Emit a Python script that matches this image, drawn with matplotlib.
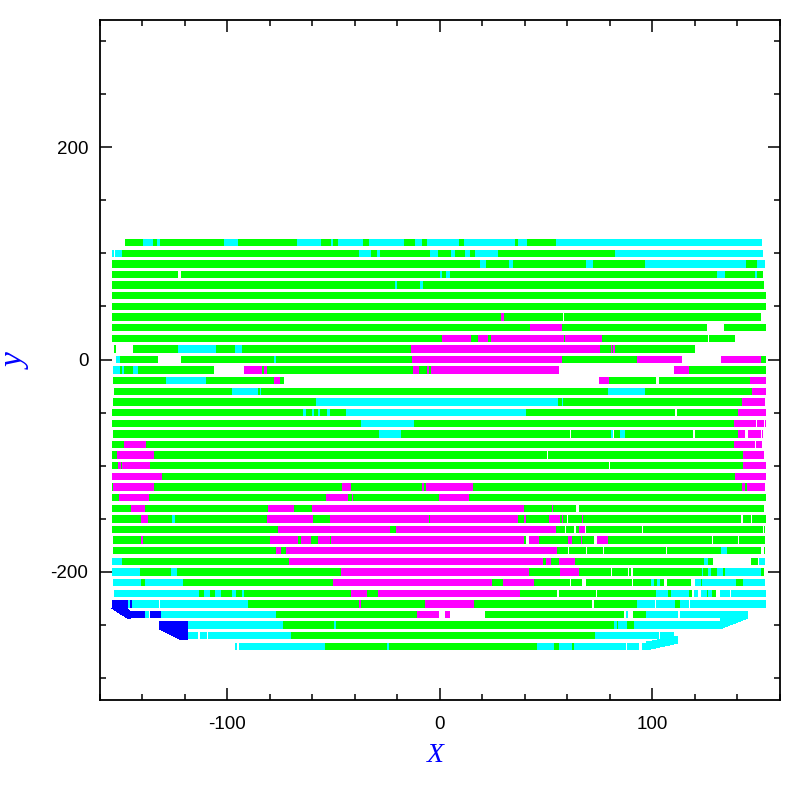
import matplotlib
matplotlib.use("Agg")
import matplotlib.pyplot as plt
from matplotlib.ticker import MultipleLocator

plt.rcParams['font.family'] = ['Liberation Sans', 'DejaVu Sans']
plt.rcParams['axes.unicode_minus'] = False

# --- data: for each strip, the x limits of its pieces and one colour letter per piece
# g green, c cyan, m magenta, b blue, - nothing
x_110 = [-148, -139.4, -134.7, -132.8, -131.6, -101.4, -94.8, -66.9, -55.8, -51.1, -50, -47.8, -35.8, -33, -16.7, -11.5, -8.2, -5.7, 9.1, 11.5, 35.5, 36.9, 41.2, 54.8, 151.8]
c_110 = "gcgcgcgcgcgcgcgcgcgcgcgc"
x_100 = [-154.2, -153.3, -152.8, -149.4, -37.7, -32.1, -29.3, -28, -4.5, -0.7, 5.4, 7.3, 12, 14.3, 16.7, 27.5, 82.6, 152.2]
c_100 = "c-cgcgcgcgcgcgcgc"
x_90 = [-154.2, 19, 21.9, 32.7, 34.6, 68.9, 72.2, 96.7, 144.2, 149.4, 153.2]
c_90 = "gcgcgcgcgc"
x_80 = [-154.2, -123.1, -121.7, 0.2, 1, 3, 4.9, 130.7, 134.3, 148.5, 149.4, 152.2]
c_80 = "g-gcgcgcgcg"
x_70 = [-154.2, -20.9, -20, -9.2, -7.8, 152.7]
c_70 = "gcgcg"
x_60 = [-154.2, 153.6]
c_60 = "g"
x_50 = [-154.2, 153.6]
c_50 = "g"
x_40 = [-154.2, 28.9, 30.3, 58.1, 58.6, 151.3]
c_40 = "gmg-g"
x_30 = [-154.2, 42.6, 57.6, 125.9, 133.9, 153.6]
c_30 = "gmg-g"
x_20 = [-154.2, 1.1, 14.8, 18.1, 22.8, 24.2, 58.6, 59, 76.5, 126.4, 126.8, 139.1]
c_20 = "gmgmgmgmg-g"
x_10 = [-153.2, -152.3, -144.3, -123.1, -105.2, -96.3, -93, -13.4, 75.5, 80.7, 81.2, 81.6, 82.6, 120.2]
c_10 = "g-gcgcgmgmgmg"
x_0 = [-152.3, -150.4, -132.5, -121.7, -77.9, -77, -12.9, 57.6, 92.9, 114.1, 132.5, 151.3, 153.6]
c_0 = "cg-gcgmgm-mg"
x_m10 = [-153.7, -150.4, -149.4, -148.5, -144.3, -141.9, -106.1, -92, -83.5, -82.6, -81.2, -12.3, -9.6, -5.9, -4.9, -4, 56.2, 110.3, 117.4, 153.6]
c_m10 = "cgcgcg-mgmgmgmgm-mg"
x_m20 = [-153.7, -128.7, -109.9, -77.9, -75.1, -73.2, 75, 79.7, 101.9, 103.3, 146.1, 153.6]
c_m20 = "gcgmg-mg-gm"
x_m30 = [-153.2, -97.7, -85.4, -84.5, -83.9, 79.3, 96.7, 147, 153.6]
c_m30 = "gcgcgcgm"
x_m40 = [-153.7, -58.1, 55.7, 57.6, 58.1, 142.4, 153.2]
c_m40 = "gcgcgm"
x_m50 = [-154.2, -64.2, -62.8, -60, -59, -57.2, -56.2, -52.8, -51.5, -44, 40.7, 110.8, 111.8, 140.5, 153.6]
c_m50 = "gcgcgcgcgcg-gm"
x_m60 = [-154.2, -36.8, -12, 138.6, 148.9, 149.4, 152.7, 153.2, 153.6]
c_m60 = "gcgm-m-m"
x_m70 = [-153.7, -28.5, -18.1, 61.4, 61.9, 80.7, 81.6, 82.1, 84.9, 87.3, 119.3, 120.2, 140.5, 143.8, 145.2, 151.3, 151.8, 152.2]
c_m70 = "gcg-gc-gcg-gm-m-m"
x_m80 = [-154.2, -148.5, -138.1, 138.6, 148.5, 148.9, 151.8]
c_m80 = "gmgm-m"
x_m90 = [-154.2, -151.8, -134.4, 50.6, 51, 142.8, 152.7]
c_m90 = "gmg-gm"
x_m100 = [-154.2, -151.3, -149.9, -149.4, -136.3, 79.7, 80.2, 142.8, 153.6]
c_m100 = "gmgmg-gm"
x_m110 = [-154.2, -130.6, 139.1, 153.6]
c_m110 = "mgm"
x_m120 = [-154.2, -153.7, -134.4, -45.9, -41.7, -8.2, -7.3, -6.3, 15.7, 142.4, 143.8, 144.7, 153.2]
c_m120 = "gmgmgmgmgmgm"
x_m130 = [-154.2, -150.9, -136.7, -53.4, -43.1, -41.2, -40.6, -0.2, 13.9, 153.6]
c_m130 = "gmgmgmgmg"
x_m140 = [-154.2, -145.2, -138.6, -80.7, -68.5, -60, 39.7, 52.9, 53.4, 64.2, 65.6, 152.7]
c_m140 = "gmgmgmgmg-g"
x_m150 = [-154.2, -140.5, -137.2, -125.9, -124.5, -81.2, -59.5, -51.5, -4.9, -4.5, 36.9, 39.7, 40.7, 51.5, 56.7, 57.6, 58.3, 60, 60.5, 67, 67.7, 141.9, 142.8, 146.6, 147, 153.6]
c_m150 = "gmgcgmgmgmgmgmgmg-gmg-g-g"
x_m160 = [-154.2, -76, -23.3, -20.5, 54.8, 59, 59.5, 63.3, 64.2, 65.6, 68.5, 68.9, 95.3, 95.8, 152.2, 152.7, 153.2]
c_m160 = "gmgmg-g-gm-g-g-g"
x_m170 = [-153.7, -140.5, -139.6, -79.8, -66.6, -65.2, -60.5, -57.2, -51.5, -50.9, 39.7, 40.7, 42.1, 46.8, 60.5, 62.3, 66.6, 67, 72.7, 74.1, 79.3, 128.2, 128.7, 140.5, 140.9, 153.2]
c_m170 = "gmgmgmgmgmg-mgmgmg-mg-g-g"
x_m180 = [-153.7, -77, -74.6, -72.2, 55.3, 60.5, 60.9, 68.9, 69.4, 76.9, 77.4, 106.6, 107, 132.5, 135.3, 151.3, 152.7, 153.2]
c_m180 = "gmgmg-g-g-g-gcg-g"
x_m190 = [-154.2, -149.4, -70.8, 48.7, 50.1, 52.4, 56.2, 63.7, 124.5, 126.3, 128.7, 146.6, 149.9, 150.4, 153.2]
c_m190 = "cgmgmgmgcg-g-c"
x_m200 = [-154.2, -141, -126.4, -123.6, -46.4, 42.1, 56.7, 65.6, 80.7, 81.2, 88.7, 89.2, 90.1, 91, 123.5, 124, 126.3, 127.8, 130.6, 133.4, 134.3, 151.3, 152.7]
c_m200 = "cgcgmgmg-g-g-gcgcgcgcg"
x_m210 = [-153.7, -140.5, -138.6, -120.7, -50.1, 24.7, 29.9, 44.4, 61.4, 61.9, 67, 68.9, 90.6, 91, 99.5, 100.9, 102.3, 103.8, 105.6, 107, 118.3, 120.2, 123, 123.5, 139.5, 142.8, 153.2]
c_m210 = "cgcgmgmg-g-g-gcgcg-g-cgcgc"
x_m220 = [-153.2, -113.2, -110.8, -108, -105.7, -102.8, -97.7, -95.8, -93, -92, -41.7, -34, -29, 37.9, 55.3, 56.2, 73.6, 74.1, 101.9, 107.5, 108.9, 117.4, 118.8, 119.8, 121.6, 123, 125.9, 126.3, 128.2, 130.1, 132, 136.7, 137.2, 153.6]
c_m220 = "cgcgcgcgcgmgmg-g-gcgcg-c-cgcg-c-c"
x_m230 = [-154.2, -146.6, -145.7, -144.7, -132, -131.6, -90.1, -37.9, -37, -6.8, 16.2, 71.7, 72.7, 92.9, 101.4, 101.9, 110.8, 113.2, 117.4, 117.9, 153.6]
c_m230 = "bcbc-cgmgmg-gc-cgc-c"
x_m240 = [-146.1, -138.6, -136.9, -136.3, -131.1, -76.9, -10.6, -0.1, 2.6, 4.9, 21.4, 86.8, 87.8, 88.7, 91, 97.2, 112.2, 113.2, 145.2]
c_m240 = "bc-bcgm-m-g-c-gc-c"
x_m250 = [-132, -118.4, -73.7, -49.7, -48.7, 82.1, 83.5, 84, 88.2, 91.5, 132]
c_m250 = "bcgcgcgcgc"
x_m260 = [-118.4, -113.7, -112.7, -109.4, -109, -69.9, 73.2, 103.3, 103.8, 110.3]
c_m260 = "c-c-cgc-c"
x_m270 = [-96.3, -95.3, -94.4, -53.9, -24.7, -23.8, 45.9, 53.9, 56.2, 62.3, 63.3, 87.8, 88.2, 93.9, 95.3, 97.2]
c_m270 = "c-cgcgcgcgc-c-c"

strip_y = [110, 100, 90, 80, 70, 60, 50, 40, 30, 20, 10, 0, -10, -20, -30, -40, -50, -60, -70, -80, -90,
           -100, -110, -120, -130, -140, -150, -160, -170, -180, -190, -200, -210, -220, -230, -240, -250, -260, -270]
strip_x = [x_110, x_100, x_90, x_80, x_70, x_60, x_50, x_40, x_30, x_20, x_10, x_0, x_m10, x_m20, x_m30, x_m40, x_m50,
           x_m60, x_m70, x_m80, x_m90, x_m100, x_m110, x_m120, x_m130, x_m140, x_m150, x_m160, x_m170, x_m180, x_m190,
           x_m200, x_m210, x_m220, x_m230, x_m240, x_m250, x_m260, x_m270]
strip_c = [c_110, c_100, c_90, c_80, c_70, c_60, c_50, c_40, c_30, c_20, c_10, c_0, c_m10, c_m20, c_m30, c_m40, c_m50,
           c_m60, c_m70, c_m80, c_m90, c_m100, c_m110, c_m120, c_m130, c_m140, c_m150, c_m160, c_m170, c_m180, c_m190,
           c_m200, c_m210, c_m220, c_m230, c_m240, c_m250, c_m260, c_m270]

# corner wedges at the bottom of the swath
wedge_blue1_x = [-154.2, -147, -146, -145.5, -147]
wedge_blue1_y = [-233.9, -233.9, -237, -243.3, -243.3]
wedge_blue2_x = [-132, -118.4, -118.4, -121]
wedge_blue2_y = [-253.6, -253.6, -264, -264]
wedge_cyan1_x = [132, 145.2, 132]
wedge_cyan1_y = [-253.6, -243.3, -243.3]
wedge_cyan2_x = [97.2, 112.2, 112.2, 110.3, 97.2]
wedge_cyan2_y = [-273.4, -267, -261, -261, -266]

colours = {'g': '#00ff00', 'c': '#00ffff', 'm': '#ff00ff', 'b': '#0000ff'}

# --- figure ---
fig = plt.figure(figsize=(7.97, 7.97), dpi=100)
ax = fig.add_axes([99.5 / 797, 97.5 / 797, 680 / 797, 680 / 797])

for y, xs, cs in zip(strip_y, strip_x, strip_c, strict=True):
    for x0, x1, c in zip(xs[:-1], xs[1:], cs, strict=True):
        if c != '-':
            ax.barh(y, x1 - x0, left=x0, height=6.9, color=colours[c], linewidth=0, antialiased=False)

ax.fill(wedge_blue1_x, wedge_blue1_y, color=colours['b'], linewidth=0, antialiased=False)
ax.fill(wedge_blue2_x, wedge_blue2_y, color=colours['b'], linewidth=0, antialiased=False)
ax.fill(wedge_cyan1_x, wedge_cyan1_y, color=colours['c'], linewidth=0, antialiased=False)
ax.fill(wedge_cyan2_x, wedge_cyan2_y, color=colours['c'], linewidth=0, antialiased=False)

ax.set_xlim(-160, 160)
ax.set_ylim(-320, 320)
ax.xaxis.set_major_locator(MultipleLocator(100))
ax.xaxis.set_minor_locator(MultipleLocator(20))
ax.yaxis.set_major_locator(MultipleLocator(200))
ax.yaxis.set_minor_locator(MultipleLocator(50))

ax.tick_params(which='major', direction='in', top=True, right=True, length=8.6, width=1.1, labelsize=13.5)
ax.tick_params(which='minor', direction='in', top=True, right=True, length=4.3, width=1.1)
ax.tick_params(axis='x', which='major', pad=12)
ax.tick_params(axis='y', which='major', pad=8)
for s in ax.spines.values():
    s.set_linewidth(1.3)

fig.text(435.5 / 797, 1 - 755 / 797, "X", color='#0000ff', fontsize=20, family='Liberation Serif',
         style='italic', ha='center', va='center')
fig.text(17 / 797, 1 - 362 / 797, "y", color='#0000ff', fontsize=24, family='Liberation Serif',
         style='italic', rotation=90, ha='center', va='center')

fig.savefig("out.png", dpi=100)
